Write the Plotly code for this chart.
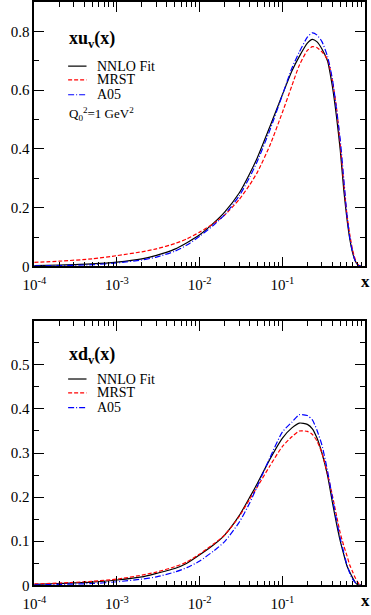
import plotly.graph_objects as go

# x grid (log scale) and valence distributions
x_vals = [1e-4, 2e-4, 5e-4, 1e-3, 2e-3, 3e-3, 5e-3, 7e-3, 0.01, 0.015, 0.02, 0.03, 0.04,
          0.05, 0.07, 0.1, 0.13, 0.16, 0.2, 0.23, 0.26, 0.3, 0.35, 0.4, 0.45, 0.5, 0.55,
          0.6, 0.65, 0.7, 0.75, 0.8, 0.85, 0.9]

xuv_nnlo = [0.003, 0.005, 0.009, 0.015, 0.026, 0.038, 0.059, 0.081, 0.108, 0.150, 0.185, 0.250, 0.315,
            0.372, 0.474, 0.585, 0.665, 0.715, 0.760, 0.773, 0.765, 0.740, 0.700, 0.615, 0.510,
            0.395, 0.262, 0.165, 0.095, 0.050, 0.022, 0.008, 0.002, 0.0]
xuv_mrst = [0.014, 0.018, 0.026, 0.037, 0.050, 0.060, 0.078, 0.094, 0.117, 0.148, 0.175, 0.228, 0.277,
            0.322, 0.410, 0.525, 0.615, 0.685, 0.735, 0.748, 0.745, 0.730, 0.705, 0.635, 0.540,
            0.415, 0.285, 0.180, 0.110, 0.060, 0.028, 0.010, 0.003, 0.0]
xuv_a05 = [0.002, 0.003, 0.006, 0.012, 0.022, 0.032, 0.052, 0.073, 0.103, 0.143, 0.176, 0.240, 0.303,
           0.360, 0.462, 0.584, 0.675, 0.730, 0.780, 0.795, 0.788, 0.765, 0.715, 0.640, 0.535,
           0.430, 0.300, 0.180, 0.100, 0.052, 0.022, 0.008, 0.002, 0.0]

xdv_nnlo = [0.002, 0.004, 0.007, 0.012, 0.019, 0.027, 0.038, 0.050, 0.069, 0.093, 0.114, 0.158, 0.199,
            0.232, 0.285, 0.334, 0.357, 0.368, 0.365, 0.355, 0.335, 0.300, 0.250, 0.190, 0.140,
            0.100, 0.070, 0.045, 0.030, 0.018, 0.008, 0.002, 0.0005, 0.0]
xdv_mrst = [0.003, 0.005, 0.009, 0.014, 0.023, 0.030, 0.042, 0.053, 0.071, 0.095, 0.114, 0.156, 0.195,
            0.224, 0.270, 0.315, 0.337, 0.350, 0.349, 0.342, 0.328, 0.300, 0.253, 0.205, 0.158,
            0.118, 0.090, 0.068, 0.046, 0.032, 0.019, 0.009, 0.002, 0.0]
xdv_a05 = [0.001, 0.002, 0.004, 0.008, 0.014, 0.019, 0.030, 0.040, 0.055, 0.079, 0.099, 0.143, 0.186,
           0.226, 0.288, 0.348, 0.370, 0.387, 0.385, 0.375, 0.353, 0.318, 0.260, 0.200, 0.148,
           0.106, 0.075, 0.047, 0.028, 0.015, 0.007, 0.002, 0.0005, 0.0]

labels = ["NNLO Fit", "MRST", "A05"]
colors = ["black", "red", "blue"]
dashes = ["solid", "4px,2px", "6px,2px,1px,2px"]

x_major = [1e-4, 1e-3, 1e-2, 1e-1, 1]
x_major_text = ["10<sup>-4</sup>", "10<sup>-3</sup>", "10<sup>-2</sup>", "10<sup>-1</sup>", ""]
x_minor = [m * 10.0 ** k for k in range(-4, 0) for m in range(2, 10)]

W, H = 371, 615
FONT = "Liberation Serif"


def px(x):
    return x / W


def py(y):
    return 1 - y / H


fig = go.Figure()

panels = [
    ("x", "y", [xuv_nnlo, xuv_mrst, xuv_a05]),
    ("x2", "y2", [xdv_nnlo, xdv_mrst, xdv_a05]),
]
for xa, ya, series in panels:
    for vals, name, col, dash in zip(series, labels, colors, dashes):
        fig.add_trace(go.Scatter(
            x=x_vals, y=vals, name=name, xaxis=xa, yaxis=ya, mode="lines",
            line=dict(color=col, width=1.2, dash=dash, shape="spline", smoothing=0.6),
            showlegend=False,
        ))

xdom = [px(23), px(365)]
axis_common = dict(
    showline=True, linecolor="black", linewidth=1.5, mirror="ticks",
    ticks="inside", ticklen=10, tickwidth=1.2, tickcolor="black",
    showgrid=False, zeroline=False,
    tickfont=dict(family=FONT, size=15, color="black"),
)
xaxis_cfg = dict(
    axis_common, type="log", range=[-4, 0], domain=xdom,
    tickmode="array", tickvals=x_major, ticktext=x_major_text, ticklabelstandoff=4,
    minor=dict(tickmode="array", tickvals=x_minor, ticks="inside", ticklen=5,
               tickwidth=1.2, tickcolor="black"),
)

fig.update_layout(
    width=W, height=H,
    margin=dict(l=0, r=0, t=0, b=0),
    paper_bgcolor="white", plot_bgcolor="white",
    showlegend=False,
    xaxis=dict(xaxis_cfg, anchor="y"),
    xaxis2=dict(xaxis_cfg, anchor="y2"),
    yaxis=dict(axis_common, range=[0, 0.9], domain=[py(270), py(2)], anchor="x",
               tickmode="array", tickvals=[0, 0.2, 0.4, 0.6, 0.8],
               ticktext=["0", "0.2", "0.4", "0.6", "0.8"],
               minor=dict(tickmode="array", tickvals=[0.1, 0.3, 0.5, 0.7], ticks="inside",
                          ticklen=5, tickwidth=1.2, tickcolor="black")),
    yaxis2=dict(axis_common, range=[0, 0.6], domain=[py(593), py(325)], anchor="x2",
                tickmode="array", tickvals=[0, 0.1, 0.2, 0.3, 0.4, 0.5],
                ticktext=["0", "0.1", "0.2", "0.3", "0.4", "0.5"],
                minor=dict(tickmode="array", tickvals=[0.05, 0.15, 0.25, 0.35, 0.45, 0.55],
                           ticks="inside", ticklen=5, tickwidth=1.2, tickcolor="black")),
)

# hand-made legends inside each panel
legend_blocks = [
    ("<b>xu<sub>v</sub>(x)</b>", 40, [67, 81, 96]),
    ("<b>xd<sub>v</sub>(x)</b>", 360, [384, 398, 413]),
]
for title, ty, rows in legend_blocks:
    fig.add_annotation(text=title, x=px(57), y=py(ty), xref="paper", yref="paper",
                       xanchor="left", yanchor="middle", showarrow=False,
                       font=dict(family=FONT, size=18, color="black"))
    for row, name, col, dash in zip(rows, labels, colors, dashes):
        fig.add_shape(type="line", xref="paper", yref="paper",
                      x0=px(58), x1=px(77), y0=py(row), y1=py(row),
                      line=dict(color=col, width=1.2, dash=dash))
        fig.add_annotation(text=name, x=px(86), y=py(row), xref="paper", yref="paper",
                           xanchor="left", yanchor="middle", showarrow=False,
                           font=dict(family=FONT, size=14, color="black"))

fig.add_annotation(text="Q<sub>0</sub><sup>2</sup>=1 GeV<sup>2</sup>", x=px(57), y=py(116),
                   xref="paper", yref="paper", xanchor="left", yanchor="middle",
                   showarrow=False, font=dict(family=FONT, size=13, color="black"))

# axis name "x" at the right end of each x axis
for ypos in (285, 608):
    fig.add_annotation(text="<b>x</b>", x=px(365), y=py(ypos), xref="paper", yref="paper",
                       xanchor="center", yanchor="middle", showarrow=False,
                       font=dict(family=FONT, size=17, color="black"))

fig.write_html("out.html", config={"displayModeBar": False},
               post_script="document.body.style.margin='0';")
